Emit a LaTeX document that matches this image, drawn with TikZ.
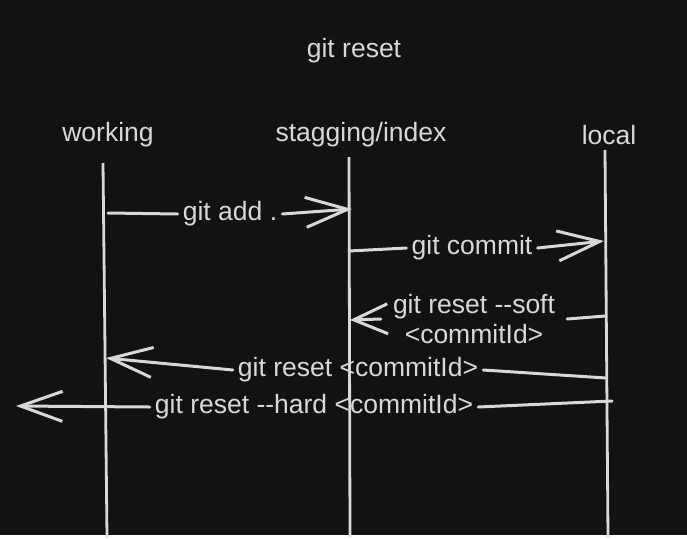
\documentclass[tikz,border=0pt]{standalone}
\usepackage{fontspec}
\setmainfont{Liberation Sans}
\usetikzlibrary{arrows.meta}
\definecolor{bg}{HTML}{121212}
\definecolor{ink}{HTML}{D8D8D8}

\begin{document}
\begin{tikzpicture}[x=1pt, y=-1pt,
    lane/.style={draw=ink, line width=2.8pt},
    shaft/.style={draw=ink, line width=3pt, line cap=round},
    msg/.style={shaft, -{Straight Barb[length=42pt, width=30pt, line width=3pt]}},
    txt/.style={text=ink, font=\fontsize{26.5}{31}\selectfont, inner xsep=5pt, inner ysep=2pt}]
      \fill[bg] (0,0) rectangle (687,535);
      % titles
      \node[txt] (title) at (354,51) {git reset};
      \node[txt] (working) at (108,135) {working};
      \node[txt] (staging) at (361,135) {stagging/index};
      \node[txt] (local) at (609,135) {local};
      % lifelines
      \coordinate (wtop) at (103,163);  \coordinate (wbot) at (107,537);
      \coordinate (stop) at (349,157);  \coordinate (sbot) at (350,537);
      \coordinate (ltop) at (605,150);  \coordinate (lbot) at (608,537);
      \draw[lane] (wtop) -- (wbot);
      \draw[lane] (stop) -- (sbot);
      \draw[lane] (ltop) -- (lbot);
      % git add .
      \coordinate (a1) at (108,213);  \coordinate (a2) at (352,209);
      \node[txt] (add) at (230,214) {git add .};
      \draw[shaft] (a1) -- (add.west);
      \draw[msg] (add.east) -- (a2);
      % git commit
      \coordinate (c1) at (349,251);  \coordinate (c2) at (604,241);
      \node[txt] (commit) at (472,248) {git commit};
      \draw[shaft] (c1) -- (commit.west);
      \draw[msg] (commit.east) -- (c2);
      % git reset --soft
      \coordinate (s1) at (605,316);  \coordinate (s2) at (350,320);
      \node[txt, align=center, inner xsep=12pt] (soft) at (474,319)
        {git reset -{}-soft\\[-1pt]<commitId>};
      \draw[shaft] (s1) -- (soft.east);
      \draw[shaft, -{Straight Barb[length=34pt, width=30pt, line width=3pt]}] (soft.west) -- (s2);
      % git reset <commitId>
      \coordinate (m1) at (606,378);  \coordinate (m2) at (106,358);
      \node[txt] (mixed) at (358,370) {git reset <commitId>};
      \draw[shaft] (m1) -- (mixed.east);
      \draw[msg] (mixed.west) -- (m2);
      % git reset --hard <commitId>
      \coordinate (h1) at (612,401);  \coordinate (h2) at (16,406);
      \node[txt] (hard) at (314,407) {git reset -{}-hard <commitId>};
      \draw[shaft] (h1) -- (hard.east);
      \draw[msg] (hard.west) -- (h2);
\end{tikzpicture}
\end{document}
